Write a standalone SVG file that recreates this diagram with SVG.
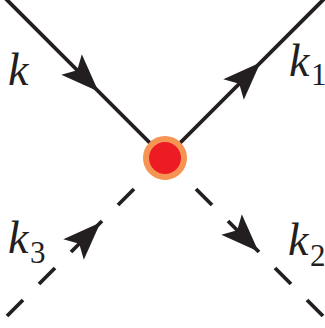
<svg xmlns="http://www.w3.org/2000/svg" xmlns:xlink="http://www.w3.org/1999/xlink" width="325" height="328" viewBox="0 0 325 328">
  <style>
    .line { stroke: #231F20; stroke-width: 3.8; fill: none; stroke-linecap: butt; }
    .arrow { fill: #231F20; }
    .lab { font-family: "Liberation Serif", "DejaVu Serif", serif; font-style: italic; font-size: 46px; fill: #231F20; }
    .sub { font-family: "Liberation Serif", "DejaVu Serif", serif; font-style: normal; font-size: 31px; fill: #231F20; }
  </style>
  <defs>
    <path id="arr" d="M19 0 L-19 -14.5 L-11 0 L-19 14.5 Z"/>
  </defs>
  <rect x="0" y="0" width="325" height="328" fill="#ffffff"/>
  <g id="connectors">
    <path class="line" d="M165 158 L-5 -12"/>
    <path class="line" d="M165 158 L335 -12"/>
    <path class="line" d="M166 157 L150 173 M134 189 L118 205 M102 221 L71 252 M55 268 L39 284 M23 300 L7 316"/>
    <path class="line" d="M164 157 L180 173 M196 189 L212 205 M228 221 L259 252 M275 268 L291 284 M307 300 L323 316"/>
    <use class="arrow" href="#arr" xlink:href="#arr" transform="translate(85 78) rotate(45)"/>
    <use class="arrow" href="#arr" xlink:href="#arr" transform="translate(247 76) rotate(-45)"/>
    <use class="arrow" href="#arr" xlink:href="#arr" transform="translate(87 236) rotate(-45)"/>
    <use class="arrow" href="#arr" xlink:href="#arr" transform="translate(245 238) rotate(45)"/>
  </g>
  <g id="vertex">
    <circle cx="165" cy="158" r="19" fill="#ED1C24" stroke="#F69553" stroke-width="6"/>
  </g>
  <g id="label-k">
    <text class="lab" x="8" y="85">k</text>
  </g>
  <g id="label-k1">
    <text class="lab" x="289" y="76">k</text>
    <text class="sub" x="311" y="85">1</text>
  </g>
  <g id="label-k3">
    <text class="lab" x="8" y="253">k</text>
    <text class="sub" x="30" y="263">3</text>
  </g>
  <g id="label-k2">
    <text class="lab" x="288" y="255">k</text>
    <text class="sub" x="310" y="266">2</text>
  </g>
</svg>
